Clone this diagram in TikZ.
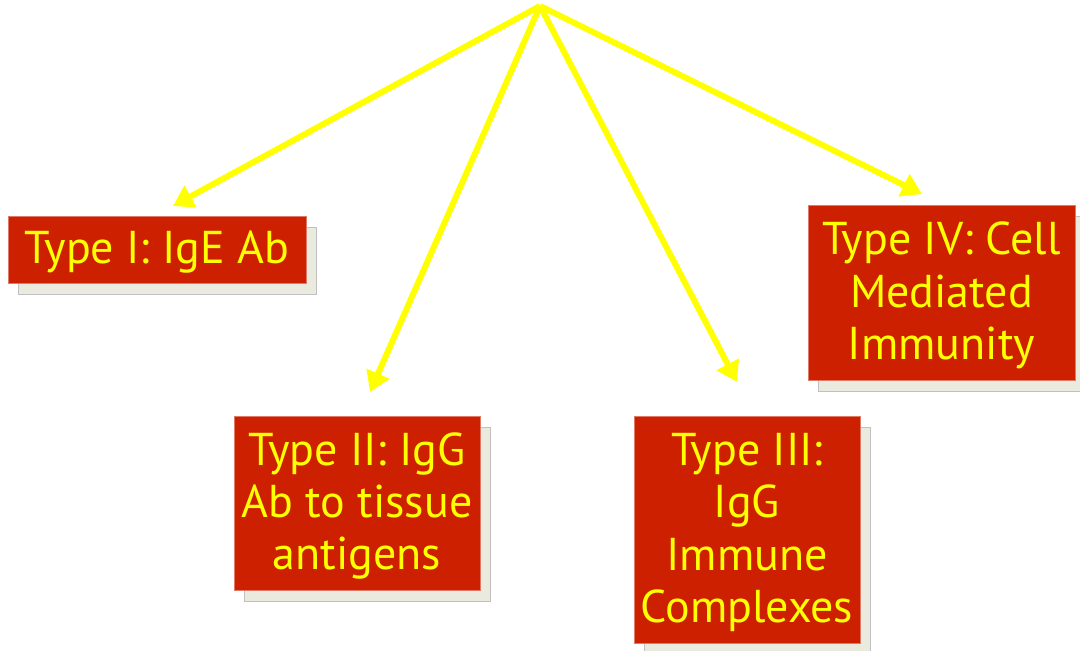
\documentclass[tikz,border=0pt]{standalone}
\usepackage{fontspec}
\setmainfont{PT Sans}
\usetikzlibrary{arrows.meta,shadows}
\definecolor{boxred}{RGB}{204,32,0}
\definecolor{shadowc}{RGB}{234,234,222}
\definecolor{shadowl}{RGB}{192,192,192}
\definecolor{arrowy}{RGB}{255,255,0}
\begin{document}
\begin{tikzpicture}[x=1pt,y=-1pt,
  box/.style={fill=boxred, draw=boxred!60!white, line width=0.6pt, inner sep=0pt,
    drop shadow={shadow xshift=10pt, shadow yshift=-11pt, fill=shadowc, draw=shadowl, opacity=1}},
  txt/.style={text=arrowy, align=center, inner sep=0pt, font=\fontsize{46}{52.3}\selectfont},
  arr/.style={draw=arrowy, line width=6pt, line join=round, -{Triangle[length=20pt,width=24pt]}}]
\useasboundingbox (0,0) rectangle (1080,651);
\node[box, minimum width=298pt, minimum height=67pt] (b1) at (157,249.5) {};
\node[box, minimum width=246pt, minimum height=174pt] (b2) at (357,503) {};
\node[box, minimum width=226pt, minimum height=227pt] (b3) at (747,529.5) {};
\node[box, minimum width=267pt, minimum height=175pt] (b4) at (941.5,292.5) {};
\node[txt] (l1) at ([yshift=-3pt]b1.center) {Type I: IgE Ab};
\node[txt] (l2) at ([yshift=-3pt]b2.center) {Type II: IgG\\Ab to tissue\\antigens};
\node[txt] (l3) at ([yshift=-3pt]b3.center) {Type III:\\IgG\\Immune\\Complexes};
\node[txt] (l4) at ([yshift=-3pt]b4.center) {Type IV: Cell\\Mediated\\Immunity};
\coordinate (apex) at (540,6);
\coordinate (t1) at (173,206);
\coordinate (t2) at (370,392);
\coordinate (t3) at (737,382);
\coordinate (t4) at (922,194);
\draw[arr] (apex) -- (t1);
\draw[arr] (apex) -- (t2);
\draw[arr] (apex) -- (t3);
\draw[arr] (apex) -- (t4);
\end{tikzpicture}
\end{document}
